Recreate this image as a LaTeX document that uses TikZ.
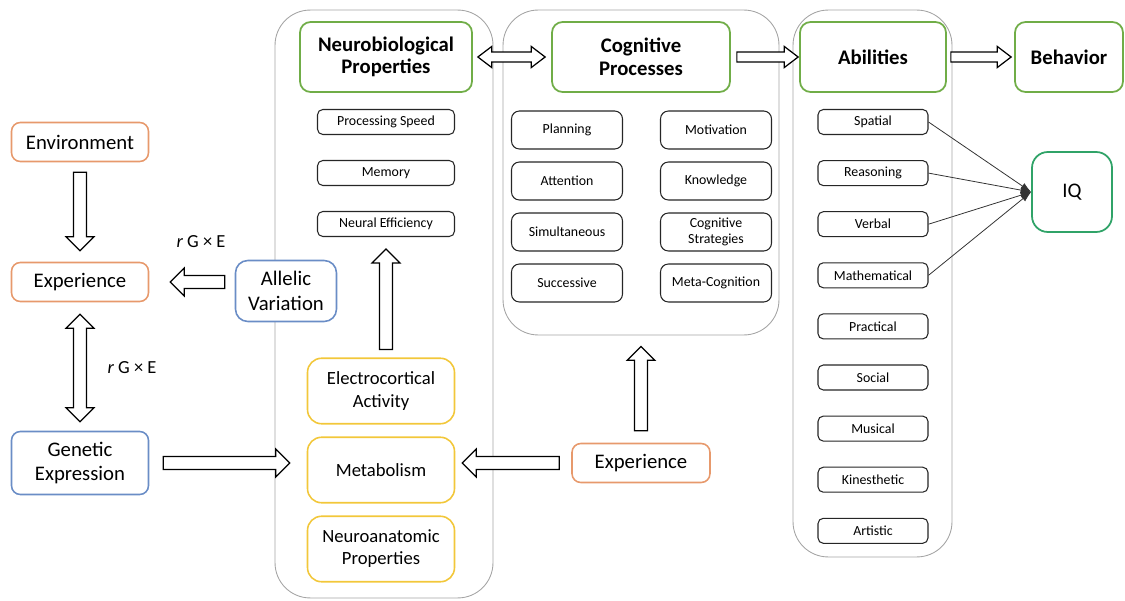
\documentclass[tikz,border=0pt]{standalone}
\usepackage{fontspec}
\setmainfont{Carlito}
\usetikzlibrary{calc,arrows.meta}

\definecolor{envorange}{RGB}{231,153,108}
\definecolor{geneblue}{RGB}{106,141,198}
\definecolor{headgreen}{RGB}{112,173,71}
\definecolor{iqgreen}{RGB}{48,163,104}
\definecolor{brainyellow}{RGB}{242,199,58}
\definecolor{groupgray}{RGB}{165,165,165}

% block arrow sizes
\newcommand{\arrshaft}{3.7pt}
\newcommand{\arrwide}{7.9pt}
\newcommand{\arrhead}{7.9pt}

% hollow block arrow from #1 to #2
\newcommand{\blockarrow}[2]{%
  \draw[blockarr] let \p1=(#1), \p2=(#2),
    \n1={veclen(\x2-\x1,\y2-\y1)}, \n2={(\x2-\x1)/\n1}, \n3={(\y2-\y1)/\n1},
    \n4={\n1-\arrhead}
  in ({\x1-\arrshaft*(\n3)},{\y1+\arrshaft*(\n2)})
  -- ({\x1+\n4*(\n2)-\arrshaft*(\n3)},{\y1+\n4*(\n3)+\arrshaft*(\n2)})
  -- ({\x1+\n4*(\n2)-\arrwide*(\n3)},{\y1+\n4*(\n3)+\arrwide*(\n2)})
  -- (\p2)
  -- ({\x1+\n4*(\n2)+\arrwide*(\n3)},{\y1+\n4*(\n3)-\arrwide*(\n2)})
  -- ({\x1+\n4*(\n2)+\arrshaft*(\n3)},{\y1+\n4*(\n3)-\arrshaft*(\n2)})
  -- ({\x1+\arrshaft*(\n3)},{\y1-\arrshaft*(\n2)})
  -- cycle;}

% hollow block arrow with a head at both ends
\newcommand{\blockarrowboth}[2]{%
  \draw[blockarr] let \p1=(#1), \p2=(#2),
    \n1={veclen(\x2-\x1,\y2-\y1)}, \n2={(\x2-\x1)/\n1}, \n3={(\y2-\y1)/\n1},
    \n4={\n1-\arrhead}
  in ({\x1+\arrhead*(\n2)-\arrshaft*(\n3)},{\y1+\arrhead*(\n3)+\arrshaft*(\n2)})
  -- ({\x1+\n4*(\n2)-\arrshaft*(\n3)},{\y1+\n4*(\n3)+\arrshaft*(\n2)})
  -- ({\x1+\n4*(\n2)-\arrwide*(\n3)},{\y1+\n4*(\n3)+\arrwide*(\n2)})
  -- (\p2)
  -- ({\x1+\n4*(\n2)+\arrwide*(\n3)},{\y1+\n4*(\n3)-\arrwide*(\n2)})
  -- ({\x1+\n4*(\n2)+\arrshaft*(\n3)},{\y1+\n4*(\n3)-\arrshaft*(\n2)})
  -- ({\x1+\arrhead*(\n2)+\arrshaft*(\n3)},{\y1+\arrhead*(\n3)-\arrshaft*(\n2)})
  -- ({\x1+\arrhead*(\n2)+\arrwide*(\n3)},{\y1+\arrhead*(\n3)-\arrwide*(\n2)})
  -- (\p1)
  -- ({\x1+\arrhead*(\n2)-\arrwide*(\n3)},{\y1+\arrhead*(\n3)+\arrwide*(\n2)})
  -- cycle;}

\begin{document}
\begin{tikzpicture}[x=0.02cm, y=-0.02cm,
  group/.style={draw=groupgray, line width=0.5pt, rounded corners=20pt},
  header/.style={draw=headgreen, line width=1pt, rounded corners=6pt, fill=white,
    align=center, font=\bfseries\fontsize{11.8}{12.8}\selectfont,
    minimum height=1.4cm, inner sep=2pt},
  outer/.style={line width=0.9pt, rounded corners=5pt, fill=white, align=center,
    font=\fontsize{11.8}{14}\selectfont, minimum width=2.74cm, inner sep=2pt},
  brain/.style={draw=brainyellow, line width=0.9pt, rounded corners=8pt, fill=white,
    align=center, font=\fontsize{10.6}{12.6}\selectfont,
    minimum width=2.94cm, minimum height=1.31cm},
  item/.style={draw=black!85, line width=0.6pt, rounded corners=3pt, fill=white,
    align=center, font=\fontsize{7.9}{9}\selectfont, minimum height=0.5cm, inner sep=1pt},
  process/.style={item, rounded corners=4.5pt, minimum width=2.22cm, minimum height=0.76cm},
  blockarr/.style={draw=black, fill=white, line width=0.7pt},
  iqline/.style={draw=black!80, line width=0.45pt, -{Latex[length=6pt,width=4pt]}},
  gxe/.style={font=\fontsize{10.5}{12}\selectfont}
]
\useasboundingbox (0,0) rectangle (1125,601);

% Groups
\node[group, minimum width=4.36cm, minimum height=11.76cm] (neurogrp) at (384,304) {};
\node[group, minimum width=5.52cm, minimum height=6.5cm] (coggrp) at (641,172.5) {};
\node[group, minimum width=3.18cm, minimum height=10.94cm] (abgrp) at (872.5,283.5) {};

% Headers
\node[header, minimum width=3.44cm] (np) at (386,57) {Neurobiological\\Properties};
\node[header, minimum width=3.56cm] (cp) at (641,57) {Cognitive\\Processes};
\node[header, minimum width=2.92cm] (ab) at (873,57) {Abilities};
\node[header, minimum width=2.16cm] (bh) at (1069,57) {Behavior};
\node[header, draw=iqgreen, font=\fontsize{11.8}{14}\selectfont, minimum width=1.6cm,
  minimum height=1.6cm, rounded corners=9pt] (iq) at (1072,192) {IQ};

% Environment and genes
\node[outer, draw=envorange, minimum height=0.78cm] (env) at (80,142) {Environment};
\node[outer, draw=envorange, minimum height=0.78cm] (exl) at (80,282) {Experience};
\node[outer, draw=geneblue, minimum height=1.26cm] (gen) at (80,463) {Genetic\\Expression};
\node[outer, draw=geneblue, minimum width=2.02cm, minimum height=1.22cm,
  rounded corners=7pt] (all) at (286,291) {Allelic\\Variation};
\node[outer, draw=envorange, minimum width=2.76cm, minimum height=0.78cm] (exr) at (641,463) {Experience};

\node[gxe] (gxe1) at (201,242) {\textit{r} G × E};
\node[gxe] (gxe2) at (132,368) {\textit{r} G × E};

% Neurobiological properties
\node[item, minimum width=2.74cm] (ps) at (386,122) {Processing Speed};
\node[item, minimum width=2.74cm] (mem) at (386,173) {Memory};
\node[item, minimum width=2.74cm] (ne) at (386,224) {Neural Efficiency};

\node[brain] (ele) at (381,391) {Electrocortical\\Activity};
\node[brain] (met) at (381,470) {Metabolism};
\node[brain] (nan) at (381,549) {Neuroanatomic\\Properties};

% Cognitive processes
\node[process] (pla) at (567,130) {Planning};
\node[process] (att) at (567,181) {Attention};
\node[process] (sim) at (567,232) {Simultaneous};
\node[process] (suc) at (567,283) {Successive};
\node[process] (mot) at (716,130) {Motivation};
\node[process] (kno) at (716,181) {Knowledge};
\node[process] (cs) at (716,232) {Cognitive\\Strategies};
\node[process] (mc) at (716,283) {Meta-Cognition};

% Abilities
\foreach \name/\txt [count=\i] in {sp/Spatial, rea/Reasoning, ver/Verbal,
    mat/Mathematical, pra/Practical, soc/Social, mus/Musical,
    kin/Kinesthetic, art/Artistic}
  \node[item, minimum width=2.2cm] (\name) at (873,{122+51.1*(\i-1)}) {\txt};

\foreach \name in {sp,rea,ver,mat}
  \draw[iqline] (\name.east) -- (iq.west);

% Block arrows
\blockarrow{$(env.south)+(0,10)$}{$(exl.north)+(0,-11)$}
\blockarrow{$(all.west |- exl.east)+(-10,0)$}{$(exl.east)+(21,0)$}
\blockarrowboth{$(exl.south)+(0,12)$}{$(gen.north)+(0,-9)$}
\blockarrow{$(gen.east)+(14,0)$}{$(met.west |- gen.east)+(-17,0)$}
\blockarrow{$(exr.west)+(-12,0)$}{$(met.east |- exr.west)+(7,0)$}
\blockarrow{$(exr.north)+(0,-12)$}{$(coggrp.south -| exr.north)+(0,11)$}
\blockarrow{$(ne.south |- ele.north)+(0,-8)$}{$(ne.south)+(0,12)$}
{\renewcommand{\arrshaft}{2.8pt}\renewcommand{\arrwide}{6pt}
\blockarrowboth{$(np.east)+(5,0)$}{$(cp.west)+(-6,0)$}
\blockarrow{$(cp.east)+(6,0)$}{$(ab.west)+(-1,0)$}
\blockarrow{$(ab.east)+(4,0)$}{$(bh.west)+(-3,0)$}}
\end{tikzpicture}
\end{document}
